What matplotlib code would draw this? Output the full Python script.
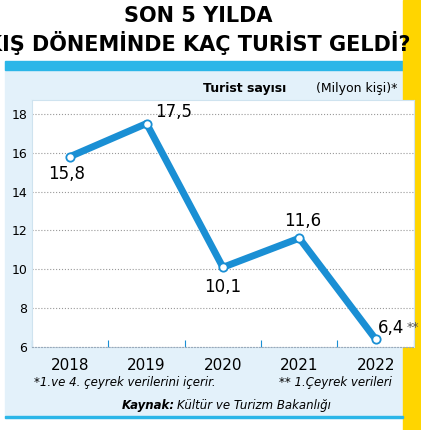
import matplotlib
matplotlib.use('Agg')
import matplotlib.pyplot as plt
from matplotlib.patches import Rectangle

years = ['2018', '2019', '2020', '2021', '2022']
tourists = [15.8, 17.5, 10.1, 11.6, 6.4]
labels = ['15,8', '17,5', '10,1', '11,6', '6,4']
yticks = [6, 8, 10, 12, 14, 16, 18]

blue = '#1a8fd4'
fam = ['Liberation Sans Narrow', 'DejaVu Sans']
fig = plt.figure(figsize=(4.21, 4.30), dpi=100)

# background panels
fig.patches.append(Rectangle((5/421, 12/430), 398/421, 356/430, transform=fig.transFigure,
                             color='#e3f1fa', zorder=0))
fig.patches.append(Rectangle((5/421, 360/430), 398/421, 9/430, transform=fig.transFigure,
                             color='#2bb6e8', zorder=1))
fig.patches.append(Rectangle((403/421, 0), 18/421, 1, transform=fig.transFigure,
                             color='#ffd500', zorder=1))
fig.patches.append(Rectangle((5/421, 12/430), 398/421, 2/430, transform=fig.transFigure,
                             color='#2bb6e8', zorder=1))

fig.text(0.47, 0.962, 'SON 5 YILDA', ha='center', va='center', fontsize=15,
         fontweight='bold', family=fam)
fig.text(0.47, 0.9, 'KIŞ DÖNEMİNDE KAÇ TURİST GELDİ?', ha='center', va='center',
         fontsize=15, fontweight='bold', family=fam)
fig.text(0.68, 0.795, 'Turist sayısı', ha='right', va='center', fontsize=9,
         fontweight='bold', family=fam)
fig.text(0.945, 0.795, '(Milyon kişi)*', ha='right', va='center', fontsize=9, family=fam)

ax = fig.add_axes([0.076, 0.193, 0.907, 0.574], zorder=5)
ax.set_facecolor('white')
x = list(range(len(years)))
ax.plot(x, tourists, color=blue, lw=5, solid_capstyle='round', zorder=3)
ax.plot(x, tourists, 'o', ms=6, mfc='white', mec=blue, mew=1.3, zorder=4)
offs = [(-0.05, -0.9), (0.35, 0.6), (0, -1.0), (0.05, 0.9), (0.2, 0.6)]
for xi, yi, lab, (dx, dy) in zip(x, tourists, labels, offs):
    ax.text(xi + dx, yi + dy, lab, ha='center', va='center', fontsize=12,
            family=fam, zorder=5)
ax.text(4.4, 7.0, '**', fontsize=9, color='#555555', va='center', family=fam)

ax.set_xlim(-0.5, 4.5)
ax.set_ylim(6, 18.7)
ax.set_yticks(yticks)
ax.set_yticklabels([str(t) for t in yticks], fontsize=9, family=fam)
ax.set_xticks([i - 0.5 for i in range(6)])
ax.set_xticklabels([])
ax.set_xticks(x, minor=True)
ax.set_xticklabels(years, minor=True, fontsize=11)
ax.tick_params(axis='x', which='major', direction='in', length=5, color=blue)
ax.tick_params(axis='x', which='minor', length=0, pad=8)
ax.tick_params(axis='y', length=0)
ax.grid(axis='y', ls=':', color='#999999', lw=0.8)
for s in ['top', 'right', 'left']:
    ax.spines[s].set_color('#cfe3ef')
ax.spines['bottom'].set_color('#99aabb')
ax.spines['bottom'].set_linestyle(':')

fig.text(0.08, 0.11, '*1.ve 4. çeyrek verilerini içerir.', fontsize=8.5, style='italic',
         va='center')
fig.text(0.93, 0.11, '** 1.Çeyrek verileri', fontsize=8.5, style='italic', va='center',
         ha='right')
fig.text(0.29, 0.058, 'Kaynak:', fontsize=8.5, style='italic', fontweight='bold', va='center')
fig.text(0.42, 0.058, 'Kültür ve Turizm Bakanlığı', fontsize=8.5, style='italic', va='center')

fig.savefig('out.png', dpi=100, facecolor='white')
